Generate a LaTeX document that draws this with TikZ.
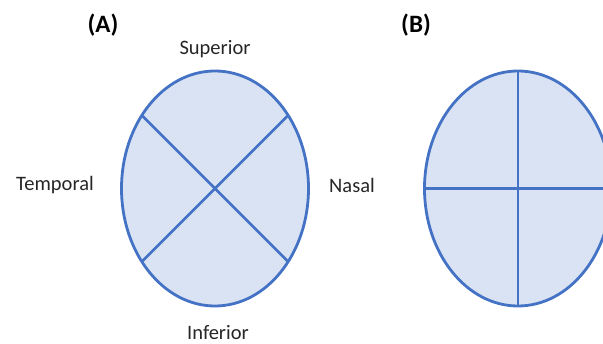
\documentclass[tikz,border=0pt]{standalone}
\usepackage{fontspec}
\setmainfont{Carlito}
\usetikzlibrary{shapes.geometric}
\definecolor{eyefill}{HTML}{DAE3F3}
\definecolor{eyeline}{HTML}{4472C4}
\tikzset{
  eye/.style={ellipse, draw=eyeline, fill=eyefill, line width=2.8pt, minimum width=187pt, minimum height=235pt, inner sep=0pt, outer sep=0pt},
  divider/.style={draw=eyeline, line width=2.8pt},
  lbl/.style={font=\fontsize{20.5}{24}\selectfont, inner sep=0pt, text=black!85},
  panel/.style={font=\fontsize{25}{30}\selectfont\bfseries, inner sep=0pt}
}
\begin{document}
\begin{tikzpicture}[x=1pt,y=-1pt]
\useasboundingbox (0,0) rectangle (603,344);
\clip (0,0) rectangle (603,344);
\node[panel] (pa) at (103,25) {(A)};
\node[panel] (pb) at (416,25) {(B)};
\node[eye] (ea) at (215,188.5) {};
\node[eye] (eb) at (518,188.5) {};
\draw[divider] (ea.135) -- (ea.-45);
\draw[divider] (ea.45) -- (ea.-135);
\draw[divider] (eb.north) -- (eb.south);
\draw[divider] (eb.west) -- (eb.east);
\node[lbl] (sup) at (215,49) {Superior};
\node[lbl] (inf) at (218,333) {Inferior};
\node[lbl] (tem) at (55,185) {Temporal};
\node[lbl] (nas) at (352,185) {Nasal};
\end{tikzpicture}
\end{document}
